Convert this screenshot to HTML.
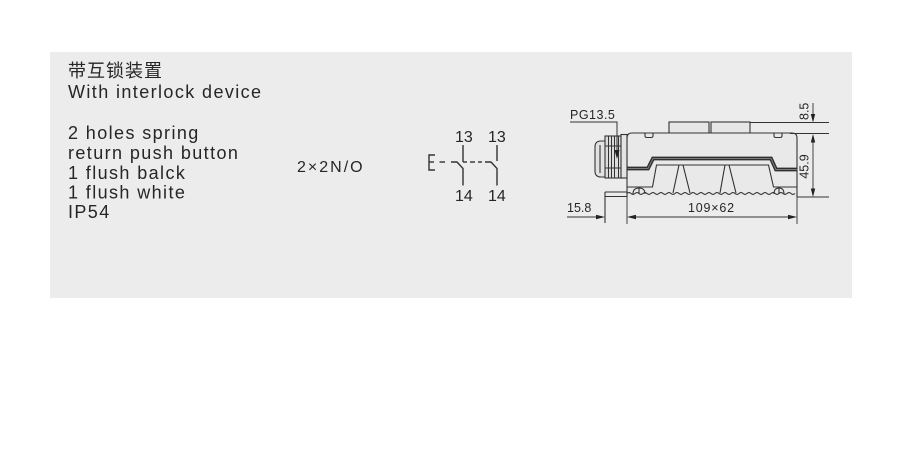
<!DOCTYPE html>
<html>
<head>
<meta charset="utf-8">
<style>
  html,body{margin:0;padding:0;background:#fff;}
  body{width:900px;height:465px;overflow:hidden;}
  svg{display:block;}
</style>
</head>
<body>
<svg width="900" height="465" viewBox="0 0 900 465" xmlns="http://www.w3.org/2000/svg">
  <!-- panel -->
  <rect x="50" y="52" width="802" height="246" fill="#ececec"/>

  <!-- left description text -->
  <g font-family="'Liberation Sans','Noto Sans CJK SC',sans-serif" fill="#262626" font-size="18" letter-spacing="1.4">
    <text x="68" y="77" letter-spacing="1">带互锁装置</text>
    <text x="68" y="98">With interlock device</text>
    <text x="68" y="139">2 holes spring</text>
    <text x="68" y="159">return push button</text>
    <text x="68" y="179">1 flush balck</text>
    <text x="68" y="198.5">1 flush white</text>
    <text x="68" y="218">IP54</text>
  </g>

  <!-- contact rating -->
  <text x="297" y="172" font-family="'Liberation Sans',sans-serif" font-size="16" letter-spacing="2" fill="#262626">2×2N/O</text>

  <!-- contact diagram -->
  <g font-family="'Liberation Sans',sans-serif" font-size="16" fill="#262626">
    <text x="455" y="142">13</text>
    <text x="488" y="142">13</text>
    <text x="455" y="201">14</text>
    <text x="488" y="201">14</text>
  </g>
  <g stroke="#333" stroke-width="1.4" fill="none">
    <!-- E -->
    <path d="M435,155 H429 V170 H435"/>
    <path d="M429,162 H434"/>
    <!-- dashes -->
    <path d="M439.5,162 H445"/>
    <path d="M463,162 H467"/>
    <path d="M470,162 H475"/>
    <path d="M478,162 H482"/>
    <!-- left contact -->
    <path d="M463,145 V162"/>
    <path d="M451,162 H457 L463,168.5 V185.5"/>
    <!-- right contact -->
    <path d="M497,145 V161"/>
    <path d="M485,162 H491 L497,168.5 V185.5"/>
  </g>

  <!-- ============ mechanical drawing ============ -->
  <g stroke="#333" stroke-width="1.1" fill="none">
    <!-- top buttons -->
    <rect x="669" y="122" width="40" height="11.5" fill="#e6e6e6"/>
    <rect x="711" y="122" width="39" height="11.5" fill="#e6e6e6"/>

    <!-- base plate -->
    <path d="M605,192 H627 M605,192 V223 M605,196.5 H797" />

    <!-- body -->
    <path d="M627,197 V138 Q627,133 632,133 H792 Q797,133 797,138 V197" fill="#e9e9e9"/>

    <!-- top small bumps -->
    <path d="M645,133 V136 Q645,137.5 647,137.5 H651 Q653,137.5 653,136 V133"/>
    <path d="M774,133 V136 Q774,137.5 776,137.5 H780 Q782,137.5 782,136 V133"/>

    <!-- lower inner outline / trapezoid -->
    <path d="M627,187 H652.5 L656.5,165 H768.5 L773.5,187 H797"/>

    <!-- legs -->
    <path d="M673,193 L679,165 M683,165 L690,193"/>
    <path d="M720,193 L725,165 M729,165 L736,193"/>

    <!-- small arcs near bottom -->
    <path d="M633,194 Q633,188 639,188 Q645,188 645,194"/>
    <path d="M639,188 V194"/>
    <path d="M774,194 Q774,188 779,188 Q784,188 784,194"/>
    <path d="M779,188 V194"/>

    <!-- wavy bottom -->
    <path d="M627,193.5 q2,-1.8 4,0 t4,0 t4,0 t4,0 t4,0 t4,0 t4,0 t4,0 t4,0 t4,0 t4,0 t4,0 t4,0 t4,0 t4,0 t4,0 t4,0 t4,0 t4,0 t4,0 t4,0 t4,0 t4,0 t4,0 t4,0 t4,0 t4,0 t4,0 t4,0 t4,0 t4,0 t4,0 t4,0 t4,0 t4,0 t4,0 t4,0 t4,0 t4,0 t4,0 t4,0 t4,0"/>
  </g>

  <!-- band (double line) -->
  <path d="M627,168.5 H648 L653,158.5 H771 L776,169.5 H797" stroke="#2e2e2e" stroke-width="3.8" fill="none"/>
  <path d="M627,168.5 H648 L653,158.5 H771 L776,169.5 H797" stroke="#7a7a7a" stroke-width="1.1" fill="none"/>

  <!-- gland PG13.5 -->
  <g stroke="#333" stroke-width="1.1">
    <path d="M606,141 H601 Q595,141 595,147 V171 Q595,177 601,177 H606 Z" fill="#e2e2e2"/>
    <path d="M600,145 V173" fill="none"/>
    <rect x="605" y="136" width="17" height="42" fill="#dcdcdc"/>
    <path d="M608.5,136 V178 M611.5,136 V178 M614.5,136 V178 M618.5,136 V178" fill="none" stroke-width="1"/>
    <path d="M605,146 H622 M605,168 H622" fill="none"/>
    <rect x="621" y="134.5" width="6" height="43.5" fill="#e4e4e4"/>
  </g>

  <!-- PG leader -->
  <path d="M570,122 H617 V151" stroke="#333" stroke-width="1" fill="none"/>
  <path d="M614.5,150 L619.5,150 L617,159 Z" fill="#222"/>
  <text x="570" y="119" font-family="'Liberation Sans',sans-serif" font-size="12.5" letter-spacing="0.5" fill="#262626">PG13.5</text>

  <!-- right dimensions -->
  <g stroke="#333" stroke-width="0.9" fill="none">
    <path d="M750,122.5 H829"/>
    <path d="M790,133.5 H829"/>
    <path d="M797,197 H829"/>
    <path d="M813,103 V121"/>
    <path d="M813,142 V189"/>
  </g>
  <g fill="#222">
    <path d="M810.8,114 L815.2,114 L813,122.5 Z"/>
    <path d="M810.8,142.5 L815.2,142.5 L813,134 Z"/>
    <path d="M810.8,188.5 L815.2,188.5 L813,197 Z"/>
  </g>
  <g font-family="'Liberation Sans',sans-serif" font-size="12.5" fill="#262626">
    <text transform="translate(808.5,120) rotate(-90)">8.5</text>
    <text transform="translate(808.5,166.5) rotate(-90)" text-anchor="middle">45.9</text>
  </g>

  <!-- bottom dimensions -->
  <g stroke="#333" stroke-width="0.9" fill="none">
    <path d="M627,197 V224"/>
    <path d="M797,197 V224"/>
    <path d="M567,217 H597"/>
    <path d="M635,217 H789"/>
  </g>
  <g fill="#222">
    <path d="M596,214.8 L596,219.2 L605,217 Z"/>
    <path d="M636,214.8 L636,219.2 L627,217 Z"/>
    <path d="M788,214.8 L788,219.2 L797,217 Z"/>
  </g>
  <g font-family="'Liberation Sans',sans-serif" font-size="12.5" fill="#262626">
    <text x="567" y="212">15.8</text>
    <text x="688" y="212" letter-spacing="0.8">109×62</text>
  </g>
</svg>
</body>
</html>
